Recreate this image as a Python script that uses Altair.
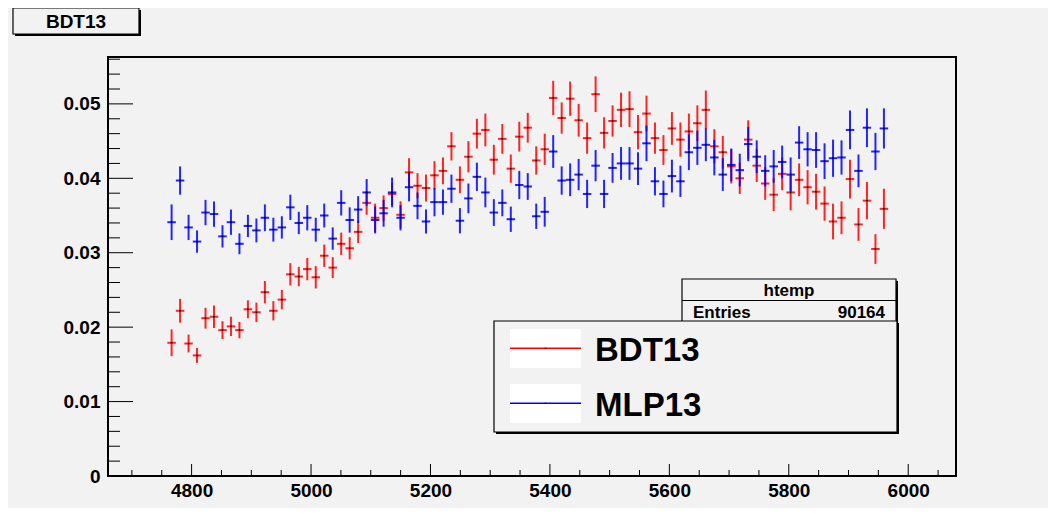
import altair as alt
import pandas as pd

# ---------------- data ----------------
series_names = ["BDT13", "MLP13"]
series_colors = ["#ff0000", "#0000ff"]

bin_lo = 4660.0        # histogram range low edge
bin_width = 14.2       # 100 bins over 4660..6080
first_bin = 7          # first filled bin

bdt13 = [0.0179, 0.0222, 0.0178, 0.0162, 0.0212, 0.0214, 0.0196, 0.0201, 0.0196, 0.0224,
         0.0220, 0.0247, 0.0222, 0.0237, 0.0271, 0.0268, 0.0278, 0.0267, 0.0296, 0.0280,
         0.0312, 0.0306, 0.0328, 0.0367, 0.0347, 0.0360, 0.0379, 0.0351, 0.0408, 0.0390,
         0.0387, 0.0404, 0.0410, 0.0443, 0.0398, 0.0429, 0.0460, 0.0465, 0.0425, 0.0453,
         0.0413, 0.0456, 0.0468, 0.0424, 0.0439, 0.0508, 0.0481, 0.0507, 0.0478, 0.0454,
         0.0513, 0.0461, 0.0477, 0.0492, 0.0493, 0.0462, 0.0487, 0.0454, 0.0438, 0.0467,
         0.0452, 0.0463, 0.0474, 0.0492, 0.0443, 0.0435, 0.0416, 0.0400, 0.0452, 0.0417,
         0.0393, 0.0378, 0.0406, 0.0381, 0.0398, 0.0388, 0.0382, 0.0366, 0.0342, 0.0347,
         0.0399, 0.0338, 0.0370, 0.0305, 0.0359]
bdt13_err = [0.0018, 0.0016, 0.0012, 0.0010, 0.0014, 0.0015, 0.0012, 0.0013, 0.0011, 0.0012,
             0.0013, 0.0015, 0.0013, 0.0013, 0.0015, 0.0013, 0.0015, 0.0015, 0.0015, 0.0014,
             0.0015, 0.0015, 0.0015, 0.0016, 0.0019, 0.0017, 0.0015, 0.0018, 0.0019, 0.0017,
             0.0018, 0.0019, 0.0018, 0.0019, 0.0018, 0.0021, 0.0020, 0.0022, 0.0020, 0.0020,
             0.0019, 0.0020, 0.0020, 0.0019, 0.0021, 0.0023, 0.0021, 0.0023, 0.0022, 0.0021,
             0.0024, 0.0021, 0.0021, 0.0023, 0.0024, 0.0023, 0.0024, 0.0021, 0.0020, 0.0022,
             0.0023, 0.0024, 0.0024, 0.0026, 0.0023, 0.0022, 0.0023, 0.0021, 0.0026, 0.0022,
             0.0022, 0.0022, 0.0022, 0.0024, 0.0022, 0.0023, 0.0024, 0.0023, 0.0024, 0.0022,
             0.0026, 0.0022, 0.0025, 0.0020, 0.0027]
mlp13 = [0.0341, 0.0397, 0.0334, 0.0315, 0.0354, 0.0352, 0.0322, 0.0341, 0.0312, 0.0336,
         0.0330, 0.0347, 0.0331, 0.0334, 0.0361, 0.0340, 0.0347, 0.0331, 0.0350, 0.0319,
         0.0367, 0.0344, 0.0358, 0.0381, 0.0344, 0.0353, 0.0381, 0.0347, 0.0388, 0.0363,
         0.0342, 0.0368, 0.0368, 0.0386, 0.0343, 0.0373, 0.0402, 0.0381, 0.0354, 0.0367,
         0.0345, 0.0391, 0.0389, 0.0349, 0.0355, 0.0436, 0.0397, 0.0398, 0.0405, 0.0379,
         0.0417, 0.0379, 0.0414, 0.0420, 0.0420, 0.0413, 0.0447, 0.0396, 0.0379, 0.0403,
         0.0396, 0.0435, 0.0441, 0.0445, 0.0428, 0.0405, 0.0418, 0.0411, 0.0446, 0.0429,
         0.0410, 0.0416, 0.0422, 0.0405, 0.0448, 0.0439, 0.0438, 0.0423, 0.0427, 0.0428,
         0.0465, 0.0410, 0.0468, 0.0436, 0.0467]
mlp13_err = [0.0024, 0.0019, 0.0017, 0.0015, 0.0017, 0.0017, 0.0015, 0.0017, 0.0014, 0.0015,
             0.0016, 0.0018, 0.0016, 0.0015, 0.0017, 0.0015, 0.0017, 0.0016, 0.0016, 0.0015,
             0.0017, 0.0017, 0.0018, 0.0018, 0.0018, 0.0018, 0.0020, 0.0017, 0.0019, 0.0018,
             0.0016, 0.0019, 0.0017, 0.0019, 0.0017, 0.0020, 0.0019, 0.0020, 0.0018, 0.0018,
             0.0017, 0.0019, 0.0018, 0.0017, 0.0020, 0.0022, 0.0019, 0.0022, 0.0021, 0.0019,
             0.0021, 0.0019, 0.0020, 0.0022, 0.0022, 0.0022, 0.0024, 0.0019, 0.0018, 0.0022,
             0.0021, 0.0024, 0.0023, 0.0022, 0.0024, 0.0022, 0.0022, 0.0022, 0.0023, 0.0022,
             0.0021, 0.0022, 0.0022, 0.0023, 0.0022, 0.0023, 0.0024, 0.0024, 0.0025, 0.0023,
             0.0026, 0.0022, 0.0026, 0.0025, 0.0027]

x_major = [4800, 5000, 5200, 5400, 5600, 5800, 6000]
x_minor = [4700, 4750, 4850, 4900, 4950, 5050, 5100, 5150, 5250, 5300, 5350, 5450, 5500,
           5550, 5650, 5700, 5750, 5850, 5900, 5950, 6050]
y_major = [0, 0.01, 0.02, 0.03, 0.04, 0.05]
y_minor = [0.002, 0.004, 0.006, 0.008, 0.012, 0.014, 0.016, 0.018, 0.022, 0.024, 0.026,
           0.028, 0.032, 0.034, 0.036, 0.038, 0.042, 0.044, 0.046, 0.048, 0.052, 0.054, 0.056]

title_text = "BDT13"
stats_name = "htemp"
stats_label = "Entries"
stats_value = "90164"

# ---------------- layout / style ----------------
W, H = 848, 419
BG = "#f2f2f2"
FONT = "Liberation Sans"
xscale = alt.Scale(domain=[4660, 6080], nice=False, zero=False)
yscale = alt.Scale(domain=[0, 0.0563], nice=False, zero=False)

XAX = alt.Axis(values=x_major, format="d", ticks=False, domain=False, grid=False,
               labelFont=FONT, labelFontSize=19, labelFontWeight="bold",
               labelColor="black", labelPadding=5, title=None)
YAX = alt.Axis(values=y_major, ticks=False, domain=False, grid=False,
               labelExpr="datum.value == 0 ? '0' : format(datum.value, '.2f')",
               labelFont=FONT, labelFontSize=19, labelFontWeight="bold",
               labelColor="black", labelPadding=8, title=None)

def X(f):
    return alt.X(f, scale=xscale, axis=XAX)

def Y(f):
    return alt.Y(f, scale=yscale, axis=YAX)

def make_df(vals, errs, name):
    rows = []
    for k, (v, e) in enumerate(zip(vals, errs)):
        lo_edge = bin_lo + bin_width * (first_bin + k)
        rows.append({"series": name, "x": lo_edge + bin_width / 2, "xl": lo_edge,
                     "xh": lo_edge + bin_width, "y": v, "lo": v - e, "hi": v + e})
    return pd.DataFrame(rows)

layers = []

# inward ticks (ROOT style)
layers.append(alt.Chart(pd.DataFrame({"v": y_major})).mark_rule(color="black", strokeWidth=1).encode(
    y=Y("v:Q"), x=alt.value(0), x2=alt.value(25)))
layers.append(alt.Chart(pd.DataFrame({"v": y_minor})).mark_rule(color="black", strokeWidth=1).encode(
    y=Y("v:Q"), x=alt.value(0), x2=alt.value(12)))
layers.append(alt.Chart(pd.DataFrame({"v": x_major})).mark_rule(color="black", strokeWidth=1).encode(
    x=X("v:Q"), y=alt.value(H), y2=alt.value(H - 12)))
layers.append(alt.Chart(pd.DataFrame({"v": x_minor})).mark_rule(color="black", strokeWidth=1).encode(
    x=X("v:Q"), y=alt.value(H), y2=alt.value(H - 6)))

for name, color, vals, errs in zip(series_names, series_colors, [bdt13, mlp13], [bdt13_err, mlp13_err]):
    df = make_df(vals, errs, name)
    base = alt.Chart(df)
    vert = base.mark_rule(color=color, strokeWidth=2, opacity=0.85).encode(
        x=X("x:Q"), y=Y("lo:Q"), y2="hi:Q")
    horiz = base.mark_rule(color=color, strokeWidth=2, opacity=0.85).encode(
        x=X("xl:Q"), x2="xh:Q", y=Y("y:Q"))
    dot = base.mark_square(color="black", size=2, opacity=1).encode(
        x=X("x:Q"), y=Y("y:Q"))
    layers += [vert, horiz, dot]

one = pd.DataFrame({"k": [0]})

def box(x1, y1, x2, y2, shadow=2):
    sh = alt.Chart(one).mark_rect(color="black").encode(
        x=alt.value(x1 + shadow), x2=alt.value(x2 + shadow),
        y=alt.value(y1 + shadow), y2=alt.value(y2 + shadow))
    main = alt.Chart(one).mark_rect(fill=BG, stroke="black", strokeWidth=1.2).encode(
        x=alt.value(x1), x2=alt.value(x2), y=alt.value(y1), y2=alt.value(y2))
    return [sh, main]

def text(s, x, y, size, align="left", baseline="alphabetic"):
    return alt.Chart(one).mark_text(font=FONT, fontSize=size, fontWeight="bold", color="black",
                                    align=align, baseline=baseline).encode(
        x=alt.value(x), y=alt.value(y), text=alt.value(s))

# title box
layers += box(-95, -49, 31, -23)
layers.append(text(title_text, -32, -29, 19, align="center"))

# stats box
layers += box(574, 222, 788, 343)
layers.append(alt.Chart(one).mark_rule(color="black", strokeWidth=1.2).encode(
    x=alt.value(574), x2=alt.value(788), y=alt.value(243.5)))
layers.append(text(stats_name, 681, 239, 17, align="center"))
layers.append(text(stats_label, 585, 261, 17, align="left"))
layers.append(text(stats_value, 777, 261, 17, align="right"))

# legend box
layers += box(386, 264, 789, 375)
for k, (name, color) in enumerate(zip(series_names, series_colors)):
    top = 272 + 55 * k
    layers.append(alt.Chart(one).mark_rect(color="white").encode(
        x=alt.value(402), x2=alt.value(473), y=alt.value(top), y2=alt.value(top + 39)))
    layers.append(alt.Chart(one).mark_rule(color=color, strokeWidth=1.5).encode(
        x=alt.value(402), x2=alt.value(473), y=alt.value(top + 19.3)))
    layers.append(alt.Chart(one).mark_square(color="black", size=2).encode(
        x=alt.value(437.5), y=alt.value(top + 19.3)))
    layers.append(text(name, 487, top + 31.7, 33, align="left"))

chart = alt.layer(*layers).properties(
    width=W, height=H,
    padding={"left": 100, "top": 49, "right": 92, "bottom": 32},
    autosize=alt.AutoSizeParams(type="none"),
    background=BG,
).configure_view(stroke="black", strokeWidth=2, fill=BG)

chart.save("out.html", embed_options={"renderer": "svg", "actions": False})
